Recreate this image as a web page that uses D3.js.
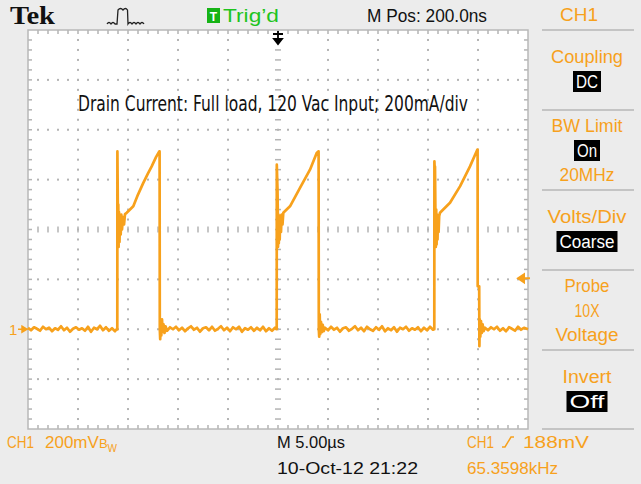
<!DOCTYPE html>
<html>
<head>
<meta charset="utf-8">
<script src="https://cdn.jsdelivr.net/npm/d3@7"></script>
<style>
  html, body { margin: 0; padding: 0; background: #ececec; }
  svg { display: block; }
  text { font-family: "Liberation Sans", Arial, sans-serif; }
</style>
</head>
<body>
<svg id="scope" width="641" height="484"></svg>
<script>
// -----------------------------------------------------------------------------
// data: time in us, drain current in mA

var timeDomainUs = [0, 50];
var currentDomainMa = [-400, 1200];

var baseline1 = [
  [0, 6], [0.3, -4], [0.6, 8], [0.9, 2], [1.2, -6], [1.5, 10], [1.8, 0],
  [2.1, 6], [2.4, -8], [2.7, 4], [3.0, -2], [3.3, 12], [3.6, -4], [3.9, 6],
  [4.2, -10], [4.5, 2], [4.8, 8], [5.1, -2], [5.4, 4], [5.7, -6], [6.0, 10],
  [6.3, -10], [6.6, 6], [6.9, 0], [7.2, 14], [7.5, -4], [7.8, 8], [8.1, -6],
  [8.4, 4], [8.7, -8], [8.9, 2]
];
var pulse1 = [
  [8.93, 0], [8.94, 713], [8.97, 560], [9.0, 380], [9.03, 500], [9.06, 330],
  [9.1, 470], [9.15, 350], [9.2, 455], [9.27, 380], [9.33, 460], [9.4, 400],
  [9.5, 450], [9.6, 420], [9.7, 462], [9.87, 467], [10.2, 480], [10.53, 493],
  [11.0, 540], [11.53, 587], [12.0, 625], [12.37, 653], [12.8, 690],
  [13.13, 713], [13.16, 713], [13.18, 0], [13.22, -40], [13.27, 35],
  [13.33, -25], [13.4, 40], [13.47, -10], [13.55, 20], [13.65, -15], [13.75, 12]
];
var baseline2 = [
  [13.9, -6], [14.2, 8], [14.5, 0], [14.8, 10], [15.1, -4], [15.4, 6],
  [15.7, -8], [16.0, 4], [16.3, 12], [16.6, -2], [16.9, 6], [17.2, -10],
  [17.5, 4], [17.8, 8], [18.1, -4], [18.4, 10], [18.7, -6], [19.0, 2],
  [19.3, 12], [19.6, -4], [19.9, 6], [20.2, -8], [20.5, 8], [20.8, 0],
  [21.1, 10], [21.4, -10], [21.7, 4], [22.0, -2], [22.3, 8], [22.6, -6],
  [22.9, 6], [23.2, -4], [23.5, 10], [23.8, -8], [24.1, 4], [24.4, -6],
  [24.7, 6], [24.85, 0]
];
var pulse2 = [
  [24.87, 0], [24.88, 660], [24.92, 600], [24.95, 560], [24.98, 470],
  [25.0, 330], [25.04, 460], [25.08, 345], [25.12, 450], [25.17, 360],
  [25.22, 455], [25.3, 390], [25.37, 460], [25.45, 420], [25.53, 467],
  [26.2, 493], [27.2, 567], [28.2, 640], [28.87, 707], [29.03, 713],
  [29.06, 713], [29.08, 0], [29.12, -30], [29.17, 60], [29.22, -20],
  [29.3, 30], [29.38, -12], [29.47, 18], [29.57, -8]
];
var baseline3 = [
  [29.7, 6], [30.0, -4], [30.3, 10], [30.6, -2], [30.9, 6], [31.2, -10],
  [31.5, 4], [31.8, 8], [32.1, -6], [32.4, 2], [32.7, 12], [33.0, -4],
  [33.3, 6], [33.6, -8], [33.9, 10], [34.2, 0], [34.5, -6], [34.8, 8],
  [35.1, -2], [35.4, 12], [35.7, -8], [36.0, 4], [36.3, -4], [36.6, 8],
  [36.9, -10], [37.2, 6], [37.5, 0], [37.8, 10], [38.1, -6], [38.4, 4],
  [38.7, -2], [39.0, 8], [39.3, -8], [39.6, 6], [39.9, -4], [40.2, 10],
  [40.5, -2], [40.6, 0]
];
var pulse3 = [
  [40.63, 0], [40.64, 673], [40.67, 640], [40.7, 653], [40.74, 470],
  [40.78, 330], [40.82, 480], [40.86, 340], [40.9, 460], [40.95, 360],
  [41.0, 450], [41.06, 390], [41.12, 455], [41.2, 467], [42.2, 507],
  [43.2, 573], [44.2, 653], [44.93, 720], [44.96, 720], [44.97, 172],
  [45.12, 172], [45.14, -68], [45.18, 40], [45.23, -30], [45.3, 33],
  [45.38, -15], [45.46, 20], [45.56, -8]
];
var baseline4 = [
  [45.7, 6], [46.0, -4], [46.3, 8], [46.6, 0], [46.9, 10], [47.2, -6],
  [47.5, 4], [47.8, -8], [48.1, 8], [48.4, 2], [48.7, -6], [49.0, 10],
  [49.3, -2], [49.6, 6], [50.0, 0]
];

var triggerLevelMa = 188;

var headerTexts = ['Tek', 'Trig\u2019d', 'M Pos: 200.0ns', 'CH1'];
var titleText = 'Drain Current: Full load, 120 Vac Input; 200mA/div';
var footerTexts = ['CH1', '200mV', 'M 5.00\u00b5s', '10-Oct-12 21:22',
  'CH1', '188mV', '65.3598kHz'];

var panelSections = [
  ['Coupling', 'DC'],
  ['BW Limit', 'On', '20MHz'],
  ['Volts/Div', 'Coarse'],
  ['Probe', '10X', 'Voltage'],
  ['Invert', 'Off']
];
var panelBoxed = ['DC', 'On', 'Coarse', 'Off'];

// -----------------------------------------------------------------------------

var orange = '#f7a11c';
var svg = d3.select('#scope');

var x = d3.scaleLinear().domain(timeDomainUs).range([28, 528]);
var y = d3.scaleLinear().domain(currentDomainMa).range([429, 30]);

function label(parent, str, px, py, width, size, color, anchor) {
  var t = parent.append('text')
    .attr('x', px)
    .attr('y', py)
    .attr('font-size', size)
    .attr('fill', color)
    .attr('text-anchor', anchor || 'start')
    .text(str);
  if (width) {
    t.attr('textLength', width).attr('lengthAdjust', 'spacingAndGlyphs');
  }
  return t;
}

// - - - - - - - - - - - - - - - - - - - - - - - - - - - - - - - - - - - - - -
// graticule

svg.append('rect')
  .attr('x', x(0)).attr('y', y(1200))
  .attr('width', x(50) - x(0)).attr('height', y(-400) - y(1200))
  .attr('fill', '#ffffff');

var gGrid = svg.append('g').attr('fill', '#b4b4b4');

var majorT = d3.range(5, 50, 5).filter(function (d) { return d !== 25; });
var majorI = d3.range(-200, 1200, 200).filter(function (d) { return d !== 400; });
var minorT = d3.range(1, 50, 1);
var minorI = d3.range(-360, 1200, 40);

majorT.forEach(function (t) {
  gGrid.selectAll(null)
    .data(minorI)
    .join('rect')
    .attr('x', x(t) - 1).attr('y', function (d) { return y(d) - 1; })
    .attr('width', 2).attr('height', 2);
});
majorI.forEach(function (v) {
  gGrid.selectAll(null)
    .data(minorT)
    .join('rect')
    .attr('x', function (d) { return x(d) - 1; }).attr('y', y(v) - 1)
    .attr('width', 2).attr('height', 2);
});

// centre lines with ticks
gGrid.selectAll(null)
  .data(minorT)
  .join('rect')
  .attr('x', function (d) { return x(d) - 0.75; })
  .attr('y', y(400) - 3)
  .attr('width', 1.5).attr('height', 6);
gGrid.selectAll(null)
  .data(minorI)
  .join('rect')
  .attr('x', x(25) - 3)
  .attr('y', function (d) { return y(d) - 0.75; })
  .attr('width', 6).attr('height', 1.5);

// edge ticks
gGrid.selectAll(null)
  .data(minorT)
  .join('rect')
  .attr('x', function (d) { return x(d) - 0.75; })
  .attr('y', y(1200))
  .attr('width', 1.5).attr('height', 4);
gGrid.selectAll(null)
  .data(minorT)
  .join('rect')
  .attr('x', function (d) { return x(d) - 0.75; })
  .attr('y', y(-400) - 4)
  .attr('width', 1.5).attr('height', 4);
gGrid.selectAll(null)
  .data(minorI)
  .join('rect')
  .attr('x', x(0))
  .attr('y', function (d) { return y(d) - 0.75; })
  .attr('width', 4).attr('height', 1.5);
gGrid.selectAll(null)
  .data(minorI)
  .join('rect')
  .attr('x', x(50) - 4)
  .attr('y', function (d) { return y(d) - 0.75; })
  .attr('width', 4).attr('height', 1.5);

svg.append('rect')
  .attr('x', x(0)).attr('y', y(1200))
  .attr('width', x(50) - x(0)).attr('height', y(-400) - y(1200))
  .attr('fill', 'none')
  .attr('stroke', '#b8b8b8')
  .attr('stroke-width', 1.5);

// - - - - - - - - - - - - - - - - - - - - - - - - - - - - - - - - - - - - - -
// title inside the screen

label(svg, titleText, 78, 111, 390, 21, '#111111')
  .style('font-family', '"Liberation Sans Narrow", "DejaVu Sans Condensed", "Liberation Sans", sans-serif');

// - - - - - - - - - - - - - - - - - - - - - - - - - - - - - - - - - - - - - -
// trace

var trace = [].concat(baseline1, pulse1, baseline2, pulse2,
  baseline3, pulse3, baseline4);

var line = d3.line()
  .x(function (d) { return x(d[0]); })
  .y(function (d) { return y(d[1]); });

svg.append('path')
  .datum(trace)
  .attr('d', line)
  .attr('fill', 'none')
  .attr('stroke', orange)
  .attr('stroke-width', 2.7)
  .attr('stroke-linejoin', 'round');

// - - - - - - - - - - - - - - - - - - - - - - - - - - - - - - - - - - - - - -
// markers: channel ground, trigger position, trigger level

label(svg, '1', 9, y(0) + 6, null, 15, orange);
svg.append('path')
  .attr('d', 'M18,' + y(0) + 'H24M22,' + (y(0) - 3) + 'L27,' + y(0) +
    'L22,' + (y(0) + 3) + 'Z')
  .attr('stroke', orange).attr('stroke-width', 1.5).attr('fill', orange);

var tx = x(25);
svg.append('path')
  .attr('d', 'M' + tx + ',31V40M' + (tx - 5) + ',34H' + (tx + 5) +
    'M' + (tx - 4) + ',39L' + (tx + 4) + ',39L' + tx + ',44Z')
  .attr('stroke', '#000000').attr('stroke-width', 1.8).attr('fill', '#000000');

var ty = y(triggerLevelMa) - 4;
svg.append('path')
  .attr('d', 'M518,' + ty + 'L524,' + (ty - 4) + 'L524,' + (ty + 4) +
    'ZM523,' + ty + 'H530')
  .attr('stroke', orange).attr('stroke-width', 2).attr('fill', orange);

// - - - - - - - - - - - - - - - - - - - - - - - - - - - - - - - - - - - - - -
// header

label(svg, headerTexts[0], 10, 24, 45, 25, '#111111')
  .style('font-family', '"Liberation Serif", "DejaVu Serif", serif')
  .attr('font-weight', 'bold');

svg.append('path')
  .attr('d', 'M107,24 Q109,21 111,24 Q113,21 115,24 L117,24 L118,10 ' +
    'Q120.5,7 123,10 Q125.5,7 127.5,10 L128,24 Q130,21 132,24 ' +
    'Q134,21 136,24 Q138,21 140,24 Q142,21 144,24')
  .attr('fill', 'none').attr('stroke', '#222222').attr('stroke-width', 1.3);

svg.append('rect')
  .attr('x', 207).attr('y', 8).attr('width', 13).attr('height', 15)
  .attr('fill', '#16b316');
label(svg, 'T', 213.5, 20.5, null, 12, '#ffffff', 'middle').attr('font-weight', 'bold');
label(svg, headerTexts[1], 223, 22, 56, 18, '#1ec41e');
label(svg, headerTexts[2], 367, 22, 120, 18, '#111111');
label(svg, headerTexts[3], 579, 21, 38, 18, orange, 'middle');

// - - - - - - - - - - - - - - - - - - - - - - - - - - - - - - - - - - - - - -
// side menu

var dividers = [30, 110, 190, 270, 350, 429];
svg.append('g')
  .selectAll('line')
  .data(dividers)
  .join('line')
  .attr('x1', 542).attr('x2', 634)
  .attr('y1', function (d) { return d; })
  .attr('y2', function (d) { return d; })
  .attr('stroke', '#c4c4c4')
  .attr('stroke-width', 2);

var panelWidth = {
  'Coupling': 72, 'DC': 22, 'BW Limit': 71, 'On': 20, '20MHz': 55,
  'Volts/Div': 79, 'Coarse': 55, 'Probe': 45, '10X': 25, 'Voltage': 63,
  'Invert': 49, 'Off': 35
};
var rowOffsets = { 2: [33, 58], 3: [22, 47, 71] };

var gPanel = svg.append('g');
panelSections.forEach(function (rows, i) {
  var top = dividers[i];
  var offs = rowOffsets[rows.length];
  rows.forEach(function (str, j) {
    var cy = top + offs[j];
    var w = panelWidth[str];
    var boxed = panelBoxed.indexOf(str) >= 0;
    if (boxed) {
      gPanel.append('rect')
        .attr('x', 587 - w / 2 - 3).attr('y', cy - 17)
        .attr('width', w + 6).attr('height', 21)
        .attr('fill', '#000000');
    }
    label(gPanel, str, 587, cy, w, 18, boxed ? '#ffffff' : orange, 'middle');
  });
});

// - - - - - - - - - - - - - - - - - - - - - - - - - - - - - - - - - - - - - -
// footer

label(svg, footerTexts[0], 7, 448, 27, 17, orange);
var vText = label(svg, footerTexts[1], 45, 448, null, 17, orange);
vText.append('tspan').attr('font-size', 13).text('B');
vText.append('tspan').attr('font-size', 10).attr('dy', 4).text('W');
label(svg, footerTexts[2], 277, 448, 68, 17, '#111111');
label(svg, footerTexts[3], 277, 474, 141, 17, '#111111');
label(svg, footerTexts[4], 467, 448, 27, 17, orange);
svg.append('path')
  .attr('d', 'M502,447H505L511,437H514')
  .attr('fill', 'none').attr('stroke', orange).attr('stroke-width', 1.5);
label(svg, footerTexts[5], 523, 448, 66, 17, orange);
label(svg, footerTexts[6], 467, 474, 91, 17, orange);

// -----------------------------------------------------------------------------
</script>
</body>
</html>
